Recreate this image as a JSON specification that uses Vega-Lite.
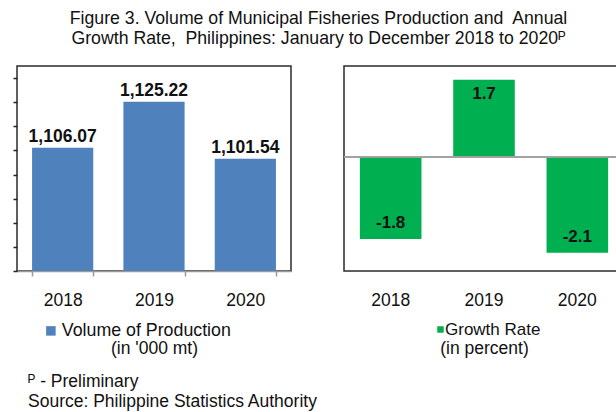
{
  "$schema": "https://vega.github.io/schema/vega-lite/v6.json",
  "background": "white",
  "padding": {"left": 11, "top": 9, "right": 0, "bottom": 0},
  "config": {
    "font": "Liberation Sans",
    "view": {"stroke": "#2b2b2b", "strokeWidth": 1.5}
  },
  "title": {
    "text": ["Figure 3. Volume of Municipal Fisheries Production and\u00a0 Annual", "Growth Rate,\u00a0 Philippines: January to December 2018 to 2020ᴾ"],
    "fontSize": 17.7,
    "fontWeight": "normal",
    "color": "#111111",
    "lineHeight": 20,
    "anchor": "middle",
    "offset": 18
  },
  "spacing": 15,
  "vconcat": [
    {
      "spacing": 50,
      "resolve": {"scale": {"color": "independent"}, "legend": {"color": "independent"}},
      "hconcat": [
        {
          "width": 274,
          "height": 205,
          "data": {"values": [
            {"year": "2018", "value": 1106.07, "series": "Volume of Production"},
            {"year": "2019", "value": 1125.22, "series": "Volume of Production"},
            {"year": "2020", "value": 1101.54, "series": "Volume of Production"}
          ]},
          "encoding": {
            "x": {"field": "year", "type": "nominal", "sort": null,
              "scale": {"paddingInner": 0.33},
              "axis": {"title": "(in '000 mt)", "titleFontSize": 17.5, "titleFontWeight": "normal", "titleColor": "#111111", "titlePadding": 31,
                "labelAngle": 0, "labelFontSize": 17.5, "labelColor": "#111111", "labelPadding": 15,
                "ticks": true, "tickSize": 5, "tickColor": "#9a9a9a", "tickWidth": 1.5, "tickBand": "extent",
                "domain": true, "domainColor": "#9a9a9a", "domainWidth": 1.5}},
            "y": {"field": "value", "type": "quantitative",
              "scale": {"domain": [1055, 1140], "nice": false, "zero": false},
              "axis": {"title": null, "labels": false, "domain": false, "grid": false,
                "values": [1055, 1065, 1075, 1085, 1095, 1105, 1115, 1125, 1135],
                "ticks": true, "tickSize": 4, "tickColor": "#222222", "tickWidth": 1.5}}
          },
          "layer": [
            {
              "mark": {"type": "bar", "clip": true},
              "encoding": {
                "color": {"field": "series", "type": "nominal",
                  "scale": {"range": ["#4F81BD"]},
                  "legend": {"orient": "none", "legendX": 25, "legendY": 256, "title": null,
                    "symbolType": "square", "symbolSize": 90, "symbolStrokeWidth": 0,
                    "labelFontSize": 17.8, "labelColor": "#111111", "labelOffset": 2, "labelLimit": 0}}
              }
            },
            {
              "mark": {"type": "text", "dy": -6, "baseline": "alphabetic", "fontWeight": "bold", "fontSize": 17.5, "color": "#111111"},
              "encoding": {"text": {"field": "value", "type": "quantitative", "format": ",.2f"}}
            }
          ]
        },
        {
          "width": 280,
          "height": 205,
          "data": {"values": [
            {"year": "2018", "value": -1.8, "series": "Growth Rate"},
            {"year": "2019", "value": 1.7, "series": "Growth Rate"},
            {"year": "2020", "value": -2.1, "series": "Growth Rate"}
          ]},
          "encoding": {
            "x": {"field": "year", "type": "nominal", "sort": null,
              "scale": {"paddingInner": 0.34},
              "axis": {"title": "(in percent)", "titleFontSize": 17.5, "titleFontWeight": "normal", "titleColor": "#111111", "titlePadding": 31,
                "labelAngle": 0, "labelFontSize": 17.5, "labelColor": "#111111", "labelPadding": 20,
                "ticks": false, "domain": false}},
            "y": {"field": "value", "type": "quantitative",
              "scale": {"domain": [-2.5, 2], "nice": false},
              "axis": null}
          },
          "layer": [
            {
              "mark": {"type": "bar"},
              "encoding": {
                "color": {"field": "series", "type": "nominal",
                  "scale": {"range": ["#00B050"]},
                  "legend": {"orient": "none", "legendX": 88, "legendY": 255, "title": null,
                    "symbolType": "square", "symbolSize": 42, "symbolStrokeWidth": 0,
                    "labelFontSize": 17, "labelColor": "#111111", "labelOffset": -4, "labelLimit": 0}}
              }
            },
            {
              "mark": {"type": "rule", "color": "#a0a0a0", "strokeWidth": 1.5},
              "encoding": {"y": {"datum": 0}, "x": null}
            },
            {
              "transform": [{"filter": "datum.value > 0"}],
              "mark": {"type": "text", "dy": 19, "baseline": "alphabetic", "fontWeight": "bold", "fontSize": 17, "color": "#111111"},
              "encoding": {"text": {"field": "value", "type": "nominal"}}
            },
            {
              "transform": [{"filter": "datum.value < 0"}],
              "mark": {"type": "text", "dy": -11, "baseline": "alphabetic", "fontWeight": "bold", "fontSize": 17, "color": "#111111"},
              "encoding": {"text": {"field": "value", "type": "nominal"}}
            }
          ]
        }
      ]
    },
    {
      "width": 300,
      "height": {"step": 20},
      "view": {"stroke": null},
      "data": {"values": [
        {"line": 1, "note": "ᴾ - Preliminary"},
        {"line": 2, "note": "Source: Philippine Statistics Authority"}
      ]},
      "mark": {"type": "text", "align": "left", "baseline": "alphabetic", "fontSize": 17.5, "color": "#111111", "dx": 11},
      "encoding": {
        "x": {"datum": 0, "type": "quantitative", "scale": {"domain": [0, 1]}, "axis": null},
        "y": {"field": "line", "type": "ordinal", "axis": null},
        "text": {"field": "note"}
      }
    }
  ]
}
